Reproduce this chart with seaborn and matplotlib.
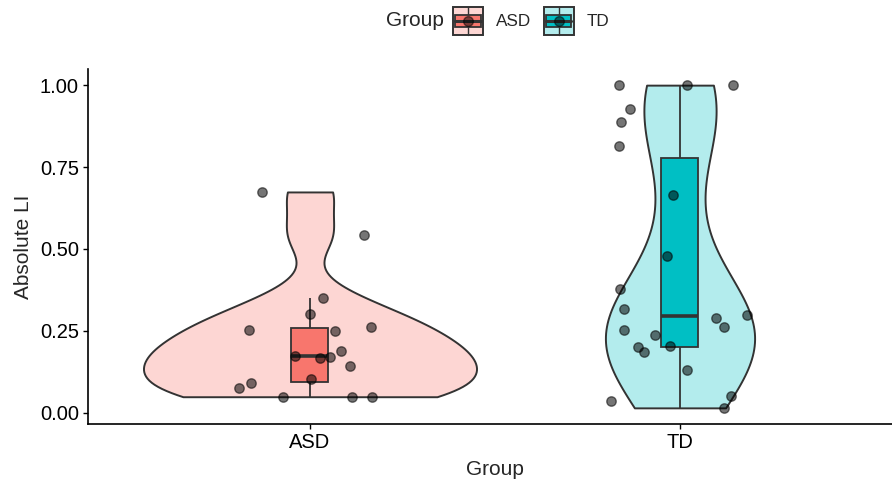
import numpy as np
import pandas as pd
import matplotlib
matplotlib.use("Agg")
import matplotlib.pyplot as plt
import seaborn as sns
from matplotlib.patches import Rectangle
from matplotlib.lines import Line2D
from matplotlib.legend_handler import HandlerBase

# valores
groups = ["ASD", "TD"]
asd_li = [0.674, 0.543, 0.351, 0.302, 0.253, 0.250, 0.262, 0.189, 0.174,
          0.168, 0.171, 0.143, 0.091, 0.076, 0.104, 0.049, 0.049, 0.049]
asd_jit = [-0.129, 0.146, 0.035, 0.0, -0.164, 0.067, 0.164, 0.084, -0.040,
           0.027, 0.054, 0.108, -0.159, -0.191, 0.003, -0.073, 0.113, 0.167]
td_li = [1.0, 1.0, 1.0, 0.928, 0.888, 0.814, 0.665, 0.479, 0.377, 0.316, 0.252,
         0.299, 0.289, 0.262, 0.238, 0.200, 0.185, 0.205, 0.130, 0.035, 0.052, 0.015]
td_jit = [-0.164, 0.018, 0.144, -0.134, -0.160, -0.165, -0.018, -0.034, -0.163,
          -0.151, -0.151, 0.182, 0.098, 0.120, -0.068, -0.113, -0.096, -0.026,
          0.019, -0.187, 0.137, 0.118]

full_cols = ["#F8766D", "#00BFC4"]
edge = "#333333"


def lighten(c, a=0.3):
    rgb = np.array(matplotlib.colors.to_rgb(c))
    return tuple(rgb * a + (1 - a))


light_cols = [lighten(c) for c in full_cols]

df = pd.DataFrame({
    "Group": ["ASD"] * len(asd_li) + ["TD"] * len(td_li),
    "LI": asd_li + td_li,
    "jit": asd_jit + td_jit,
})
df["xpos"] = df["Group"].map({g: i for i, g in enumerate(groups)}) + df["jit"]


# largura de banda igual ao bw.nrd0 do R
def nrd0(v):
    v = np.asarray(v)
    sd = v.std(ddof=1)
    q1, q3 = np.percentile(v, [25, 75])
    return 0.9 * min(sd, (q3 - q1) / 1.34) * len(v) ** -0.2


def kde_peak(v, bw):
    v = np.asarray(v)
    grid = np.linspace(v.min(), v.max(), 512)
    d = np.exp(-0.5 * ((grid[:, None] - v[None, :]) / bw) ** 2).sum(1)
    return (d / (len(v) * bw * np.sqrt(2 * np.pi))).max()


vals = {"ASD": asd_li, "TD": td_li}
bws = {g: nrd0(vals[g]) for g in groups}
peaks = {g: kde_peak(vals[g], bws[g]) for g in groups}
pmax = max(peaks.values())

sns.set_theme(style="ticks")
plt.rcParams["font.family"] = ["Liberation Sans", "DejaVu Sans"]

fig = plt.figure(figsize=(8.92, 4.83), dpi=100)
ax = fig.add_axes([88 / 892, 59 / 483, 814 / 892, 355 / 483])

for i, g in enumerate(groups):
    sub = df[df["Group"] == g]
    sns.violinplot(data=sub, x="Group", y="LI", order=groups, color=light_cols[i],
                   saturation=1, cut=0, inner=None, density_norm="area",
                   width=0.9 * peaks[g] / pmax,
                   bw_method=bws[g] / np.std(vals[g], ddof=1),
                   linewidth=1.4, linecolor=edge, ax=ax)

sns.boxplot(data=df, x="Group", y="LI", order=groups, hue="Group", hue_order=groups,
            palette=full_cols, saturation=1, width=0.1, showfliers=False,
            showcaps=False, linewidth=1.3, linecolor=edge, legend=False,
            medianprops={"linewidth": 2.6, "color": edge}, ax=ax)

ax.scatter(df["xpos"], df["LI"], s=46, color="black", alpha=0.54,
           edgecolor="black", linewidth=1.0, zorder=5)

lo, hi = min(df["LI"]), max(df["LI"])
pad = (hi - lo) * 0.05
ax.set_ylim(lo - pad, hi + pad)
ax.set_xlim(-0.6, 1.6)
ax.set_yticks([0, 0.25, 0.5, 0.75, 1.0])
ax.set_yticklabels(["0.00", "0.25", "0.50", "0.75", "1.00"])
ax.set_xlabel("Group", fontsize=15, labelpad=6)
ax.set_ylabel("Absolute LI", fontsize=15, labelpad=5)
ax.tick_params(labelsize=14.5, length=3.5, width=1.0, color="black",
               labelcolor="black", pad=3)
sns.despine(ax=ax)
for s in ["left", "bottom"]:
    ax.spines[s].set_linewidth(1.2)
    ax.spines[s].set_color("black")


class BoxKey(HandlerBase):
    def __init__(self, light, full):
        super().__init__()
        self.light, self.full = light, full

    def create_artists(self, legend, orig_handle, xdescent, ydescent, width,
                       height, fontsize, trans):
        x0, y0 = -xdescent, -ydescent
        xc, yc = x0 + width / 2, y0 + height / 2
        arts = [
            Rectangle((x0, y0), width, height, facecolor=self.light,
                      edgecolor=edge, lw=1.4, transform=trans),
            Line2D([xc, xc], [y0, y0 + height], color=edge, lw=1.0, transform=trans),
            Rectangle((x0 + width * 0.08, y0 + height * 0.3), width * 0.84,
                      height * 0.4, facecolor=self.full, edgecolor=edge, lw=1.3,
                      transform=trans),
            Line2D([x0 + width * 0.08, x0 + width * 0.92], [yc, yc], color=edge,
                   lw=2.2, transform=trans),
            Line2D([xc], [yc], marker="o", ms=7, color="black", alpha=0.5,
                   linestyle="none", transform=trans),
        ]
        return arts


keys = [Rectangle((0, 0), 1, 1), Rectangle((0, 0), 1, 1)]
fig.legend(keys, groups, loc="center left",
           bbox_to_anchor=(453 / 892, 1 - 21 / 483), ncol=2, frameon=False,
           fontsize=12.3, handlelength=1.75, handleheight=2.15, handletextpad=0.75,
           columnspacing=0.76, borderpad=0, borderaxespad=0,
           handler_map={keys[0]: BoxKey(light_cols[0], full_cols[0]),
                        keys[1]: BoxKey(light_cols[1], full_cols[1])})
fig.text(444 / 892, 1 - 21 / 483, "Group", ha="right", va="center", fontsize=15)

fig.savefig("out.png", dpi=100)
